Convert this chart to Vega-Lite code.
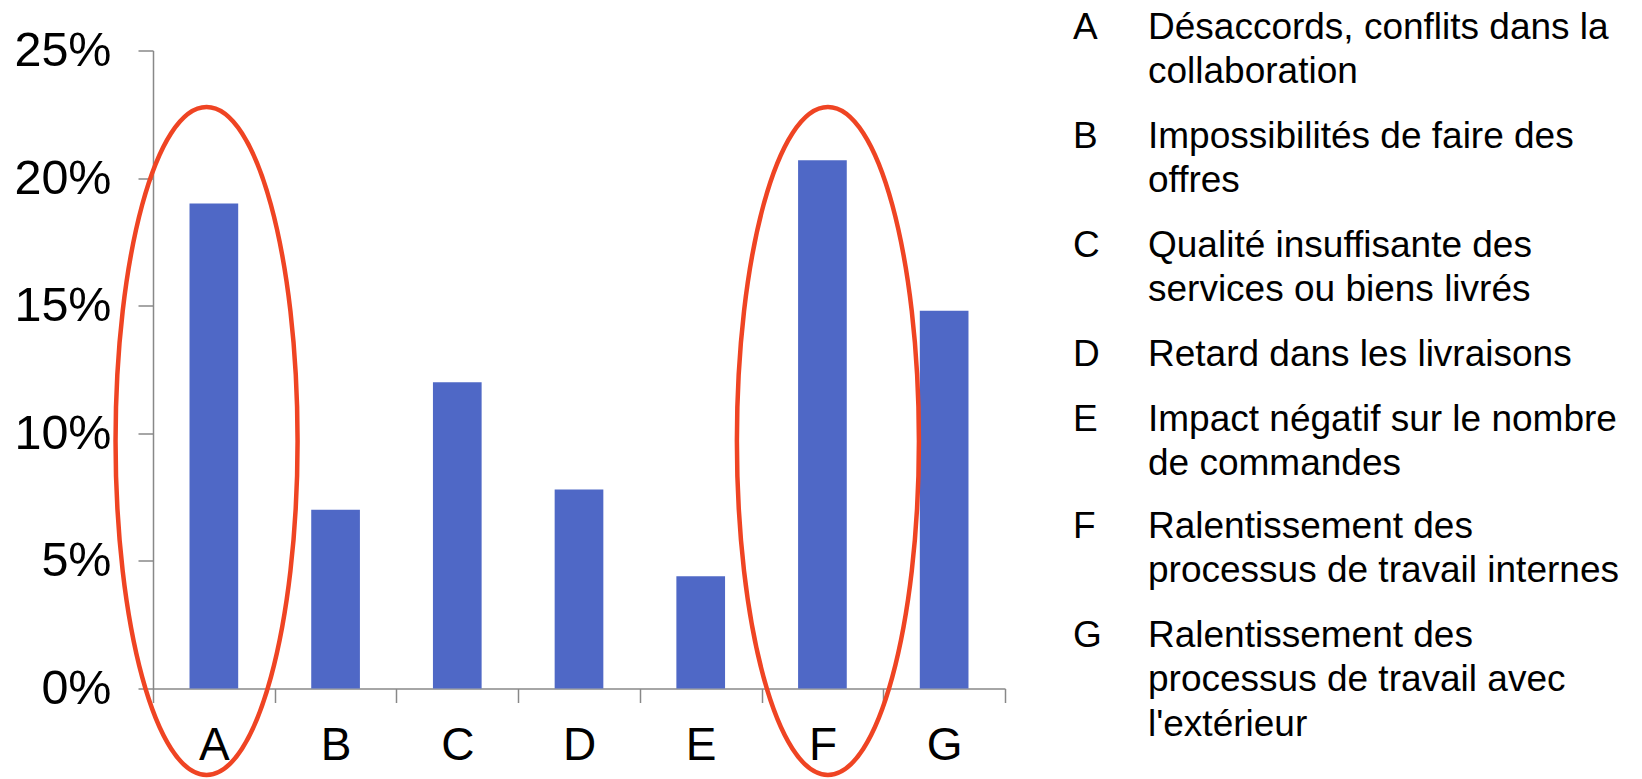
{
  "$schema": "https://vega.github.io/schema/vega-lite/v6.json",
  "background": "white",
  "padding": {"left": 13, "top": 8.5, "right": 0, "bottom": 0},
  "config": {"view": {"stroke": null}, "font": "Liberation Sans", "text": {"font": "Liberation Sans", "fontSize": 37, "lineHeight": 44.5, "color": "black", "align": "left", "baseline": "top", "dy": -41}},
  "spacing": 67,
  "datasets": {
    "bars": [
      {"code": "A", "share": 0.19},
      {"code": "B", "share": 0.07},
      {"code": "C", "share": 0.12},
      {"code": "D", "share": 0.078},
      {"code": "E", "share": 0.044},
      {"code": "F", "share": 0.207},
      {"code": "G", "share": 0.148}
    ],
    "highlights": [
      {"code": "A", "center": 0.44, "mid": 0.097},
      {"code": "F", "center": 5.545, "mid": 0.097}
    ],
    "legend": [
      {"code": "A", "label": ["Désaccords, conflits dans la", "collaboration"]},
      {"code": "B", "label": ["Impossibilités de faire des", "offres"]},
      {"code": "C", "label": ["Qualité insuffisante des", "services ou biens livrés"]},
      {"code": "D", "label": ["Retard dans les livraisons"]},
      {"code": "E", "label": ["Impact négatif sur le nombre", "de commandes"]},
      {"code": "F", "label": ["Ralentissement des", "processus de travail internes"]},
      {"code": "G", "label": ["Ralentissement des", "processus de travail avec", "l'extérieur"]}
    ]
  },
  "hconcat": [
    {
      "width": 852,
      "height": 638,
      "resolve": {"scale": {"x": "independent"}},
      "layer": [
        {
          "data": {"name": "bars"},
          "mark": {"type": "bar", "color": "#4F68C6", "width": {"band": 0.4}},
          "encoding": {
            "x": {
              "field": "code", "type": "nominal",
              "scale": {"paddingInner": 0, "paddingOuter": 0},
              "axis": {
                "title": null, "labelAngle": 0, "tickBand": "extent",
                "labelFontSize": 46, "labelColor": "black", "labelFont": "Liberation Sans",
                "tickSize": 14, "labelPadding": 21,
                "domainColor": "#888888", "tickColor": "#888888",
                "domainWidth": 1.5, "tickWidth": 1.5
              }
            },
            "y": {
              "field": "share", "type": "quantitative",
              "scale": {"domain": [0, 0.25], "nice": false},
              "axis": {
                "title": null, "format": ".0%",
                "values": [0, 0.05, 0.1, 0.15, 0.2, 0.25],
                "grid": false, "labelFlush": false,
                "labelFontSize": 48.5, "labelColor": "black", "labelFont": "Liberation Sans",
                "tickSize": 15, "labelPadding": 27,
                "domainColor": "#888888", "tickColor": "#888888",
                "domainWidth": 1.5, "tickWidth": 1.5
              }
            }
          }
        },
        {
          "data": {"name": "highlights"},
          "mark": {
            "type": "point",
            "shape": "M -0.2725 0 A 0.2725 1 0 1 0 0.2725 0 A 0.2725 1 0 1 0 -0.2725 0 Z",
            "size": 446224,
            "filled": false,
            "stroke": "#EF4423",
            "strokeWidth": 4.5,
            "opacity": 1
          },
          "encoding": {
            "x": {"field": "center", "type": "quantitative", "scale": {"domain": [0, 7], "nice": false, "zero": false}, "axis": null},
            "y": {"field": "mid", "type": "quantitative"}
          }
        }
      ]
    },
    {
      "data": {"name": "legend"},
      "spacing": 20,
      "bounds": "flush",
      "resolve": {"scale": {"y": "independent", "x": "independent"}},
      "vconcat": [
        {
          "width": 75, "height": 89,
          "transform": [{"filter": "datum.code === 'A'"}],
          "encoding": {"y": {"field": "code", "type": "nominal", "scale": {"type": "point", "padding": 0, "align": 0}, "axis": null}},
          "layer": [
            {"mark": {"type": "text"}, "encoding": {"x": {"datum": "code", "type": "nominal", "scale": {"type": "point", "padding": 0, "domain": ["code", "label"]}, "axis": null}, "text": {"field": "code"}}},
            {"mark": {"type": "text"}, "encoding": {"x": {"datum": "label", "type": "nominal"}, "text": {"field": "label"}}}
          ]
        },
        {
          "width": 75, "height": 89,
          "transform": [{"filter": "datum.code === 'B'"}],
          "encoding": {"y": {"field": "code", "type": "nominal", "scale": {"type": "point", "padding": 0, "align": 0}, "axis": null}},
          "layer": [
            {"mark": {"type": "text"}, "encoding": {"x": {"datum": "code", "type": "nominal", "scale": {"type": "point", "padding": 0, "domain": ["code", "label"]}, "axis": null}, "text": {"field": "code"}}},
            {"mark": {"type": "text"}, "encoding": {"x": {"datum": "label", "type": "nominal"}, "text": {"field": "label"}}}
          ]
        },
        {
          "width": 75, "height": 89,
          "transform": [{"filter": "datum.code === 'C'"}],
          "encoding": {"y": {"field": "code", "type": "nominal", "scale": {"type": "point", "padding": 0, "align": 0}, "axis": null}},
          "layer": [
            {"mark": {"type": "text"}, "encoding": {"x": {"datum": "code", "type": "nominal", "scale": {"type": "point", "padding": 0, "domain": ["code", "label"]}, "axis": null}, "text": {"field": "code"}}},
            {"mark": {"type": "text"}, "encoding": {"x": {"datum": "label", "type": "nominal"}, "text": {"field": "label"}}}
          ]
        },
        {
          "width": 75, "height": 44.5,
          "transform": [{"filter": "datum.code === 'D'"}],
          "encoding": {"y": {"field": "code", "type": "nominal", "scale": {"type": "point", "padding": 0, "align": 0}, "axis": null}},
          "layer": [
            {"mark": {"type": "text"}, "encoding": {"x": {"datum": "code", "type": "nominal", "scale": {"type": "point", "padding": 0, "domain": ["code", "label"]}, "axis": null}, "text": {"field": "code"}}},
            {"mark": {"type": "text"}, "encoding": {"x": {"datum": "label", "type": "nominal"}, "text": {"field": "label"}}}
          ]
        },
        {
          "width": 75, "height": 87,
          "transform": [{"filter": "datum.code === 'E'"}],
          "encoding": {"y": {"field": "code", "type": "nominal", "scale": {"type": "point", "padding": 0, "align": 0}, "axis": null}},
          "layer": [
            {"mark": {"type": "text"}, "encoding": {"x": {"datum": "code", "type": "nominal", "scale": {"type": "point", "padding": 0, "domain": ["code", "label"]}, "axis": null}, "text": {"field": "code"}}},
            {"mark": {"type": "text"}, "encoding": {"x": {"datum": "label", "type": "nominal"}, "text": {"field": "label"}}}
          ]
        },
        {
          "width": 75, "height": 89,
          "transform": [{"filter": "datum.code === 'F'"}],
          "encoding": {"y": {"field": "code", "type": "nominal", "scale": {"type": "point", "padding": 0, "align": 0}, "axis": null}},
          "layer": [
            {"mark": {"type": "text"}, "encoding": {"x": {"datum": "code", "type": "nominal", "scale": {"type": "point", "padding": 0, "domain": ["code", "label"]}, "axis": null}, "text": {"field": "code"}}},
            {"mark": {"type": "text"}, "encoding": {"x": {"datum": "label", "type": "nominal"}, "text": {"field": "label"}}}
          ]
        },
        {
          "width": 75, "height": 133.5,
          "transform": [{"filter": "datum.code === 'G'"}],
          "encoding": {"y": {"field": "code", "type": "nominal", "scale": {"type": "point", "padding": 0, "align": 0}, "axis": null}},
          "layer": [
            {"mark": {"type": "text"}, "encoding": {"x": {"datum": "code", "type": "nominal", "scale": {"type": "point", "padding": 0, "domain": ["code", "label"]}, "axis": null}, "text": {"field": "code"}}},
            {"mark": {"type": "text"}, "encoding": {"x": {"datum": "label", "type": "nominal"}, "text": {"field": "label"}}}
          ]
        }
      ]
    }
  ]
}
